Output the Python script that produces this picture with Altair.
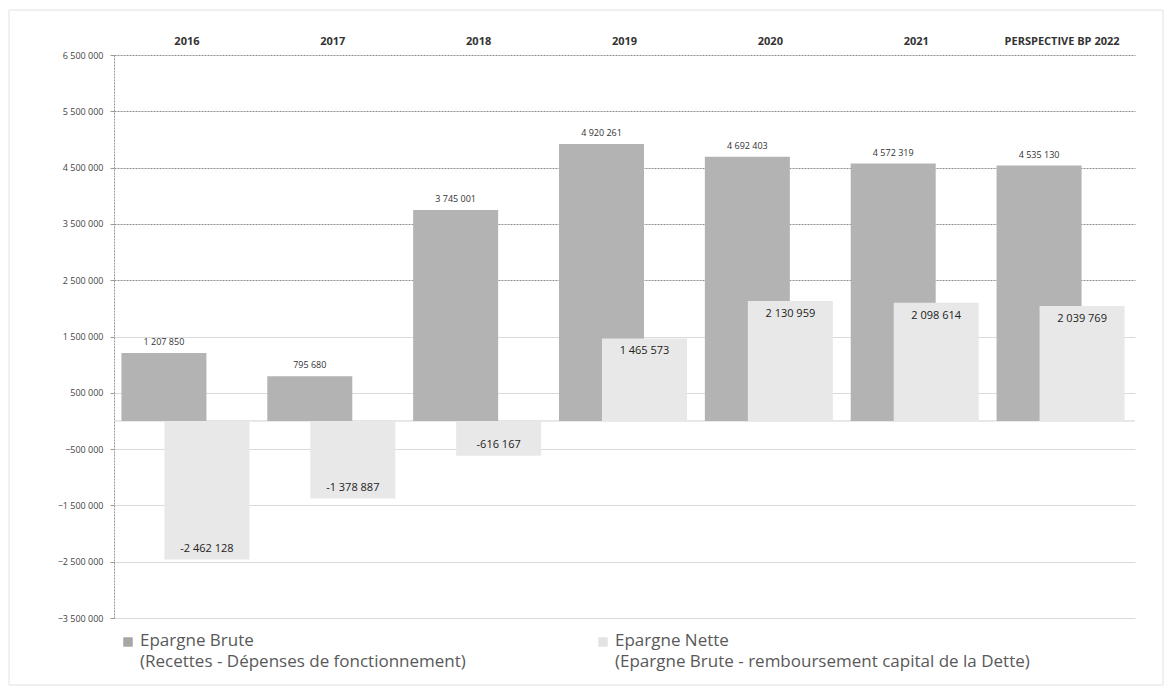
import altair as alt
import pandas as pd

categories = ["2016", "2017", "2018", "2019", "2020", "2021", "PERSPECTIVE BP 2022"]
epargne_brute = [1207850, 795680, 3745001, 4920261, 4692403, 4572319, 4535130]
epargne_nette = [-2462128, -1378887, -616167, 1465573, 2130959, 2098614, 2039769]
series = ["Epargne Brute", "Epargne Nette"]
series_sub = ["(Recettes - Dépenses de fonctionnement)",
              "(Epargne Brute - remboursement capital de la Dette)"]
y_ticks = [-3500000, -2500000, -1500000, -500000, 500000, 1500000,
           2500000, 3500000, 4500000, 5500000, 6500000]
colors = ["#b3b3b3", "#e8e8e8"]
legend_symbol_colors = ["#a6a6a6", "#e3e3e3"]


def fmt(v):
    return f"{v:,}".replace(",", " ")


rows = []
for c, b, n in zip(categories, epargne_brute, epargne_nette):
    rows.append({"cat": c, "serie": series[0], "value": b, "label": fmt(b)})
    rows.append({"cat": c, "serie": series[1], "value": n, "label": fmt(n)})
df = pd.DataFrame(rows)

leg_df = pd.DataFrame({"serie": series,
                       "text": [s + "\n" + sub for s, sub in zip(series, series_sub)]})

FONT = "Open Sans"

x_enc = alt.X(
    "cat:N", sort=categories,
    scale=alt.Scale(paddingInner=0, paddingOuter=0),
    axis=alt.Axis(orient="top", title=None, labelAngle=0, ticks=False, domain=False,
                  labelFontWeight="bold", labelFontSize=11, labelColor="#333333",
                  labelFont=FONT, labelPadding=9, labelLimit=300),
)
y_enc = alt.Y(
    "value:Q",
    scale=alt.Scale(domain=[-3500000, 6500000], nice=False, zero=False),
    axis=alt.Axis(
        values=y_ticks, title=None,
        labelExpr="replace(replace(format(datum.value, ','), ',', ' '), ',', ' ')",
        labelFontSize=9, labelColor="#444444", labelFont=FONT, labelPadding=7,
        tickSize=4, tickColor="#999999",
        domainColor="#999999", domainDash=[2, 1],
        gridColor={"condition": {"test": "datum.value > 2000000", "value": "#8f8f8f"},
                   "value": "#dadada"},
        gridDash={"condition": {"test": "datum.value > 2000000", "value": [2, 1]},
                  "value": []},
    ),
)

color_enc = alt.Color("serie:N", scale=alt.Scale(domain=series, range=colors), legend=None)

base = alt.Chart(df).encode(x=x_enc, y=y_enc)

frame = alt.Chart(pd.DataFrame({"a": [0]})).mark_rect(
    fill=None, stroke="#e2e2e2", strokeWidth=1).encode(
    x=alt.value(-105), x2=alt.value(1049), y=alt.value(-45), y2=alt.value(630))

zero = alt.Chart(pd.DataFrame({"value": [0]})).mark_rule(
    color="#d0d0d0", strokeWidth=1).encode(y="value:Q")

brute_bars = base.transform_filter(alt.datum.serie == series[0]).mark_bar(
    width=85, xOffset=-23).encode(color=color_enc)
nette_bars = base.transform_filter(alt.datum.serie == series[1]).mark_bar(
    width=85, xOffset=20).encode(color=color_enc)

brute_text = base.transform_filter(alt.datum.serie == series[0]).mark_text(
    xOffset=-23, dy=-11, baseline="middle", fontSize=9, font=FONT, color="#333333"
).encode(text="label:N")

nette_pos_text = base.transform_filter(
    (alt.datum.serie == series[1]) & (alt.datum.value > 0)).mark_text(
    xOffset=20, dy=13, baseline="middle", fontSize=11, font=FONT, color="#222222"
).encode(text="label:N")

nette_neg_text = base.transform_filter(
    (alt.datum.serie == series[1]) & (alt.datum.value < 0)).mark_text(
    xOffset=20, dy=-11, baseline="middle", fontSize=11, font=FONT, color="#222222"
).encode(text="label:N")

# legend (drawn manually for two-line labels)
leg_layers = []
for i, (sx, tx) in enumerate([(14, 26), (489, 501)]):
    d = alt.Chart(leg_df).transform_filter(alt.datum.serie == series[i])
    leg_layers.append(d.mark_square(size=90, color=legend_symbol_colors[i], opacity=1).encode(
        x=alt.value(sx), y=alt.value(587)))
    leg_layers.append(d.mark_text(
        align="left", baseline="top", lineBreak="\n", lineHeight=21, fontSize=17,
        font=FONT, color="#595959").encode(
        x=alt.value(tx), y=alt.value(578), text="text:N"))

chart = alt.layer(
    frame, zero, brute_bars, nette_bars, brute_text, nette_pos_text, nette_neg_text,
    *leg_layers
).properties(
    width=1021, height=563,
    padding={"left": 114, "top": 55, "right": 38, "bottom": 73},
    autosize=alt.AutoSizeParams(type="none"),
    background="white",
).configure_view(stroke=None)

chart.save("out.html", embed_options={"renderer": "svg", "actions": False})
